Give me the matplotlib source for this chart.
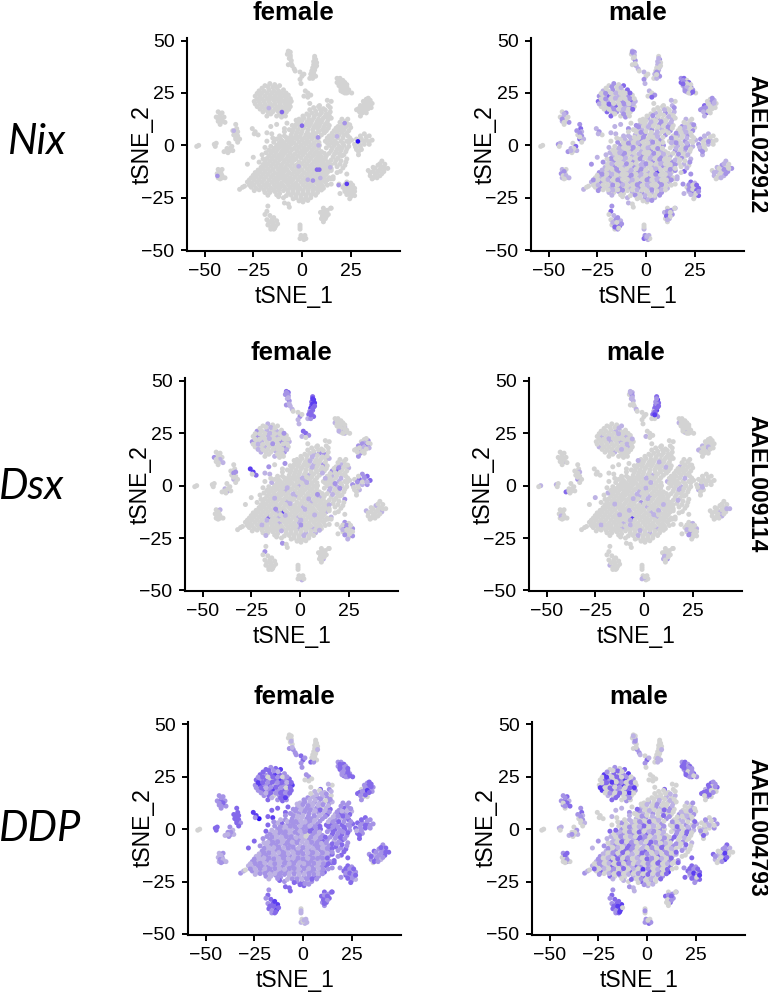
import numpy as np
import matplotlib
matplotlib.use("Agg")
import matplotlib.pyplot as plt

W, H = 768, 994

# ---- cell positions, one small list per cluster ----
tail_a = [(-7,45),(-6,44.5),(-7.5,43.5),(-6,43),(-6.5,41.5),(-5.5,40.5),(-7,38.5),(-5,38),(-4,36.5),(-3.5,35.5),(-1,35),(0,33),(-1,31.5),(1,34),(-0.5,29.5)]
tail_b = [(6.5,42.5),(7,41),(6,40),(7.5,39.5),(6,38.5),(7,37.5),(5.5,37),(6.5,36),(5,35.5),(6,34.5),(4.5,34),(5.5,33),(7,33),(4,32),(5.5,32)]
c_up = [(18,32),(19.5,32),(21,31),(18,30),(20,30),(22,30),(19,28.5),(21,28.5),(23,28),(20,27),(22,26.5),(24,26.5),(21,25.5),(23,25),(25.5,25)]
d_right = [(33,22),(35,21.5),(31.5,21),(33.5,20.5),(36,20),(30,19),(32,19),(34.5,19),(29,17.5),(31,17.5),(33,17),(35.5,18),(28,17),(31,15.5),(33,15.5),(30,14)]
e_ball = [(-19,28.5),(-16.5,29.5),(-14,29),(-11.5,28.5),(-22,26),(-19.5,26),(-17,26.5),(-14.5,26),(-12,26),(-9.5,26.5),
          (-24,23.5),(-21.5,23.5),(-19,23.5),(-16.5,24),(-14,23.5),(-11.5,23.5),(-9,23.5),(-7,24),
          (-24.5,21),(-22,21),(-19.5,21),(-17,21),(-14.5,21.5),(-12,21),(-9.5,21),(-7,21),(-5.5,21),
          (-23,18.5),(-20.5,18.5),(-18,18.5),(-15.5,19),(-13,18.5),(-10.5,18.5),(-8,18.5),(-6,18.5),
          (-20,16),(-17.5,16),(-15,16),(-12.5,16.5),(-10,16),(-8,16),(-18,14),(-13,14),(-10.5,13.5),(-8.5,14)]
t_mid = [(1.7,26),(3,25),(4.5,24),(1,23.5),(3,23),(4,20)]
f_low = [(19,-18.5),(23,-17.5),(25,-18),(21,-20),(23,-20),(25,-20),(27,-20.5),(22,-22),(24,-22.5),(26,-22.5),(25,-24.5),(27,-24),(19.5,-23),(24.5,-25.5)]
g_right = [(41,-7.5),(42.5,-9),(39,-9.5),(36.5,-10.5),(41,-10.5),(44,-11),(34,-12),(36.5,-12.5),(39,-12.5),(42,-12.5),(35,-14.5),(37.5,-14.5),(40,-14.5),(36,-16)]
v_right = [(32,5.5),(34.5,4.5),(28,3),(30.5,3),(33,2.5),(36,2.5),(27,0.5),(29.5,0.5),(32,0.5),(34.5,0.5),(28,-2),(30.5,-2),(29,-4.5)]
h_low = [(-17.5,-29),(-18,-31.5),(-19,-33),(-16.5,-33.5),(-18,-35.5),(-15.5,-35.5),(-13,-36),(-17.5,-38),(-15,-38),(-13.5,-38.5),(-16,-40),(-14.5,-40)]
k_low = [(-9,-27.5),(-7,-28),(-6.5,-29.5)]
i_low = [(11,-30),(13,-31),(9.5,-32),(11.5,-33),(13.5,-33),(10,-35),(12,-35),(11,-36.5),(15,-30)]
j_low = [(-1,-38),(-1,-40),(-0.5,-43),(1.5,-43),(-1,-44.5),(1,-45),(2,-44.5)]
l_left = [(-43,16),(-41,15.5),(-44,13.5),(-42,13.5),(-40,13.5),(-43,11.5),(-41,11.5),(-39.5,11),(-42,10)]
m_left = [(-34,10),(-33.5,8),(-35.5,7),(-33,6.5),(-35,5),(-33,4.5),(-34,3),(-32,3),(-33,1.5)]
n_left = [(-45,0.5),(-44,1),(-44.5,-0.5)]
o_left = [(-37.5,1),(-36,-0.5),(-38.5,-1.5),(-40,-3),(-37,-2.5),(-35.5,-2.5),(-38,-3.5)]
p_left = [(-53,0),(-54,-0.5)]
q_left = [(-43,-11.5),(-41,-11.5),(-43.5,-13.5),(-41.5,-13.5),(-43,-15.5),(-41,-15.5),(-39.5,-15.5)]
r_left = [(-32,-21),(-30.5,-20),(-29.5,-19.5)]
s_left = [(-25.5,8),(-24,6.5),(-22.5,5),(-24.5,5.5)]
w_scatter = [(-16,9),(-13,10),(-7.7,10.6),(-9,8),(-18,2),(-19,-1),(-25,-5.7),(-28,-9),(14.5,-16),(16,-15),(23,-13.7),(19.7,-12.4),(14.7,-30),(-18,6),(-15.5,5.5),(9,19)]
blob_01 = [(6,18),(8.5,18.5),(11,17.5),(13.5,19),(15,21),(13,21.5)]
blob_02 = [(2.5,15),(5,15.5),(7.5,15),(10,15.5),(12.5,15),(14.5,16)]
blob_03 = [(-1.5,12.5),(1,13),(3.5,12.5),(6,13),(8.5,12.5),(11,13),(13.5,12.5),(15,13),(20.5,12.5),(22.5,11.5)]
blob_04 = [(-3,10),(-0.5,10.5),(2,10),(4.5,10.5),(7,10),(9.5,10.5),(12,10),(14,9.5),(18.5,9),(21,10),(23.5,10),(25,8.5)]
blob_05 = [(-4.5,7.5),(-2,7.5),(0.5,8),(3,7.5),(5.5,7.5),(8,8),(10.5,7.5),(12.5,7),(16.5,7),(19,7.5),(21.5,7.5),(24,7)]
blob_06 = [(-5.5,5),(-3,5),(-0.5,5.5),(2,5),(4.5,5),(7,5.5),(10,5),(14,4.5),(16.5,4.5),(19,5),(21.5,5),(23.5,4.5),(-9,4.5)]
blob_07 = [(-10,2),(-7.5,2.5),(-5,2.5),(-2.5,3),(0,2.5),(2.5,2.5),(5,3),(7.5,2.5),(12,2),(14.5,2.5),(17,2),(20,2),(23,2),(25.5,2.5)]
blob_08 = [(-13,0),(-10.5,0),(-8,0),(-5.5,0.5),(-3,0),(-0.5,0),(2,0.5),(4.5,0),(7,0),(9,0),(14,0),(16.5,0),(19,-0.5),(21.5,0),(24,-0.5)]
blob_09 = [(-15,-2.5),(-12.5,-2),(-10,-2.5),(-7.5,-2.5),(-5,-2),(-2.5,-2.5),(0,-2.5),(2.5,-2),(5,-2.5),(7.5,-3),(10,-3),(15,-2.5),(17.5,-3),(20,-2.5),(22.5,-3)]
blob_10 = [(-17,-5),(-14.5,-5),(-12,-5),(-9.5,-4.5),(-7,-5),(-4.5,-5),(-2,-5),(0.5,-4.5),(3,-5),(5.5,-5),(8,-5.5),(10,-5.5),(12.5,-5),(16,-5.5),(18.5,-6),(20.5,-5),(23,-6.5)]
blob_11 = [(-19,-8),(-16.5,-7.5),(-14,-7.5),(-11.5,-7),(-9,-7.5),(-6.5,-7.5),(-4,-7),(-1.5,-8),(1,-7.5),(3.5,-7.5),(6,-8),(8.5,-7.5),(11,-8),(13.5,-8),(17,-8.5),(19.5,-9),(22,-9.5)]
blob_12 = [(-21,-10.5),(-18.5,-10),(-16,-10),(-13.5,-10),(-11,-10),(-8.5,-10.5),(-6,-10),(-3.5,-10),(-1,-10.5),(1.5,-10),(4,-10),(6.5,-10.5),(9,-10),(11.5,-10.5),(14,-10)]
blob_13 = [(-24,-13),(-21.5,-12.5),(-19,-12.5),(-16.5,-12.5),(-14,-13),(-11.5,-12.5),(-9,-12.5),(-6.5,-13),(-4,-12.5),(-1.5,-12.5),(1,-13),(3.5,-12.5),(6,-12.5),(8.5,-13),(11,-12.5),(13.5,-12.5),(15,-12),(18,-13)]
blob_14 = [(-26,-15.5),(-23.5,-15),(-21,-15),(-18.5,-15),(-16,-15),(-13.5,-15.5),(-11,-15),(-8.5,-15),(-6,-15.5),(-3.5,-15),(-1,-15),(1.5,-15.5),(4,-15),(6.5,-15),(9,-15.5),(11.5,-15),(14,-15.5),(16,-16)]
blob_15 = [(-28,-17.5),(-25.5,-18),(-23,-17.5),(-20.5,-17.5),(-18,-18),(-15.5,-17.5),(-13,-17.5),(-10.5,-18),(-8,-17.5),(-5.5,-17.5),(-3,-18),(-0.5,-17.5),(2,-17.5),(4.5,-18),(7,-17.5),(9.5,-18),(12,-17.5),(15,-18.5)]
blob_16 = [(-26,-20),(-23.5,-20.5),(-21,-20),(-18.5,-20),(-16,-20.5),(-13.5,-20),(-11,-20),(-8.5,-20.5),(-6,-20),(-3.5,-20),(-1,-20.5),(1.5,-20),(4,-20),(6.5,-20.5),(9,-20),(11,-20.5)]
blob_17 = [(-19,-22.5),(-16.5,-22.5),(-14,-22),(-11.5,-23),(-7,-22.5),(-4.5,-22.5),(-2,-22.5),(0.5,-23),(3,-22.5),(5.5,-23),(8,-22.5)]
blob_18 = [(-12,-24.5),(-9.5,-25),(-3,-25),(-0.5,-25.5),(2,-25),(4.5,-25),(0.5,-27)]
# cells that lie between the ones above in the dense areas
mid_01 = [(4,17),(7,16.5),(9.5,17),(12,16.8),(14.5,18)]
mid_02 = [(0.5,14),(3.5,14.2),(6.3,13.8),(9,14.4),(11.7,13.7),(14,14.2)]
mid_03 = [(-2.2,11.3),(0,11.8),(2.6,11.2),(5.2,11.8),(7.8,11.3),(10.3,11.7),(13,11.2),(19.5,11),(23.5,12.5)]
mid_04 = [(-3.8,8.8),(-1.2,9.2),(1.2,8.9),(3.8,9.2),(6.2,8.8),(8.9,9.2),(11.3,8.8),(13.5,8.2),(17.5,8.2),(20,8.6),(22.5,8.8),(24.5,9.8)]
mid_05 = [(-5,6.4),(-2.6,6.2),(0,6.6),(2.8,6.2),(5.8,6.4),(8.5,6.5),(11.5,6),(15.5,5.8),(18,6.2),(20.5,6.3),(23,5.8)]
mid_06 = [(-8,3.7),(-6,3.8),(-3.8,3.6),(-1.2,4),(1.2,3.6),(3.5,4),(6,4.2),(8.7,3.8),(13,3.5),(15.5,3.5),(18.3,3.6),(21,3.5),(24.5,3.6),(-11,3)]
mid_07 = [(-11.7,1.2),(-9,1),(-6.5,1.4),(-4,1.2),(-1.5,1.5),(1,1.1),(3.5,1.5),(6,1.2),(8.7,1.4),(13,1.2),(15.5,1.2),(18,1),(21,1),(24,1.4)]
mid_08 = [(-14,-1.3),(-11.5,-1),(-9,-1.3),(-6.5,-1),(-4,-1.4),(-1.5,-1),(1,-1.2),(3.5,-1),(6,-1.5),(8.5,-1.4),(12.5,-1.2),(15.5,-1.4),(18,-1.8),(20.5,-1.3),(23,-1.7)]
mid_09 = [(-16,-3.8),(-13.5,-3.5),(-11,-3.8),(-8.5,-3.5),(-6,-3.6),(-3.5,-4),(-1,-3.6),(1.5,-3.4),(4,-3.8),(6.5,-4),(9,-4.2),(11.5,-3.8),(14,-3.8),(16.7,-4.2),(19.2,-4),(21.5,-4.5)]
mid_10 = [(-18,-6.3),(-15.5,-6.3),(-13,-6),(-10.5,-6),(-8,-6.3),(-5.5,-6.2),(-3,-6.4),(-0.5,-6),(2,-6.2),(4.5,-6.3),(7,-6.7),(9.5,-6.8),(12,-6.5),(15,-7),(17.5,-7),(20,-7.4),(22.5,-8)]
mid_11 = [(-20,-9.2),(-17.5,-8.8),(-15,-8.8),(-12.5,-8.6),(-10,-8.8),(-7.5,-9),(-5,-8.6),(-2.5,-9.2),(0,-8.8),(2.5,-8.8),(5,-9.2),(7.5,-8.8),(10,-9),(12.5,-9.2),(15,-9.2),(18,-10.2),(21,-10.8)]
mid_12 = [(-22.5,-11.8),(-20,-11.3),(-17.5,-11.3),(-15,-11.5),(-12.5,-11.2),(-10,-11.3),(-7.5,-11.8),(-5,-11.2),(-2.5,-11.4),(0,-11.7),(2.5,-11.3),(5,-11.2),(7.5,-11.8),(10,-11.3),(12.5,-11.5),(15,-11)]
mid_13 = [(-25,-14.3),(-22.5,-13.8),(-20,-13.8),(-17.5,-13.8),(-15,-14.2),(-12.5,-13.9),(-10,-13.8),(-7.5,-14.2),(-5,-13.8),(-2.5,-13.8),(0,-14.2),(2.5,-13.9),(5,-13.8),(7.5,-14),(10,-13.9),(12.5,-13.8)]
mid_14 = [(-27,-16.5),(-24.5,-16.4),(-22,-16.3),(-19.5,-16.3),(-17,-16.5),(-14.5,-16.5),(-12,-16.3),(-9.5,-16.3),(-7,-16.5),(-4.5,-16.3),(-2,-16.3),(0.5,-16.5),(3,-16.4),(5.5,-16.3),(8,-16.5),(10.5,-16.5),(13,-16.5)]
mid_15 = [(-27,-19),(-24.5,-19),(-22,-18.8),(-19.5,-18.8),(-17,-19),(-14.5,-18.8),(-12,-18.8),(-9.5,-19.2),(-7,-18.8),(-4.5,-18.8),(-2,-19.2),(0.5,-18.8),(3,-18.8),(5.5,-19.2),(8,-18.8),(10.5,-19.2),(13,-19)]
mid_16 = [(-24.5,-21.6),(-22,-21.2),(-19.5,-21.2),(-17,-21.4),(-14.5,-21.2),(-12,-21.4),(-9.5,-21.6),(-7,-21.2),(-4.5,-21.2),(-2,-21.4),(0.5,-21.6),(3,-21.2),(5.5,-21.6),(8,-21.2),(10,-21.3)]
mid_17 = [(-17.5,-23.8),(-13,-23.6),(-8,-24),(-5.5,-23.8),(-3,-23.8),(-0.5,-24),(2,-23.8),(4.5,-23.9),(7,-23.8)]
mid_18 = [(-1.5,-26.5),(1,-26),(3,-26.3),(-4.5,-25.5)]
mid_ball = [(-17.5,28),(-15,27.8),(-12.8,27.5),(-20.5,27.3),(-23,24.8),(-20.7,24.8),(-18,24.9),(-15.5,25),(-13,24.8),(-10.5,24.9),(-8.2,25),
            (-23,22.2),(-20.7,22.2),(-18,22.4),(-15.7,22.5),(-13,22.3),(-10.7,22.3),(-8.2,22.3),(-6,22.3),(-24,19.8),(-21.5,19.8),(-19,19.7),
            (-16.5,20),(-14,20),(-11.3,19.8),(-8.7,19.8),(-6.5,19.8),(-21.5,17.3),(-19,17.2),(-16.5,17.4),(-14,17.3),(-11.5,17.3),(-9,17.3),(-6.8,17.2),(-16,15),(-11.5,15),(-9,15)]
mid_c = [(19,31),(21,29.5),(19,29.3),(23,29),(21,27.5),(23,27),(20,26),(22,25),(24,25.5)]
mid_d = [(34,22.5),(32,20),(35,20.3),(33,18.5),(30.5,18),(34,17.5),(29.5,16),(32,16.3)]
mid_g = [(40,-8.8),(37.5,-11),(40,-11.5),(42.5,-11),(35,-13),(38,-13.5),(41,-13.5),(36.5,-15.5),(38.5,-15.5)]
mid_v = [(33,4),(30,4.5),(29.5,1.8),(32,1.8),(34.5,1.8),(27.5,-0.8),(30,-0.8),(29,-3)]
mid_f = [(22,-18.8),(24,-19),(26,-19),(22,-21),(24,-21),(26,-21.5),(23,-23.5),(25.5,-23),(27,-22)]
mid_h = [(-17,-36.8),(-15,-36.8),(-14.5,-34.5),(-16,-39),(-14,-39.5),(-12.5,-37.5)]
mid_i = [(11,-31.5),(12.5,-32),(10.5,-33.7),(12.5,-34),(11,-35.5)]
mid_l = [(-42,15),(-41,12.5),(-43,12.5),(-42,11)]
mid_q = [(-42,-12.5),(-42.5,-14.5),(-41,-14.5),(-42,-16)]
mid_o = [(-37,-1.5),(-38.5,-2.5)]
mid_j = [(0,-44),(0.5,-43.5),(-1,-39)]
mid_tb = [(6.5,39),(6.5,37),(5.5,35),(5.5,33.8),(6.5,41.5),(7.5,38)]
mid_ta = [(-6.5,44),(-6,42),(-7,44.5),(-5.5,39)]
mid_m = [(-34,6),(-34,4)]
flank_ul = [(-22,-8),(-20,-6.5),(-18.5,-3.5),(-17,-2.3),(-16,-0.5),(-14.5,1.5),(-13,3),(-11.5,4.5),(-9,6.5),(-6.5,7.5),(-5,9.5),(-3,12),(-20.5,-4.5),(-15,3.5)]

clusters = [tail_a, tail_b, c_up, d_right, e_ball, t_mid, f_low, g_right, v_right, h_low, k_low, i_low, j_low,
            l_left, m_left, n_left, o_left, p_left, q_left, r_left, s_left, w_scatter,
            blob_01, blob_02, blob_03, blob_04, blob_05, blob_06, blob_07, blob_08, blob_09,
            blob_10, blob_11, blob_12, blob_13, blob_14, blob_15, blob_16, blob_17, blob_18,
            mid_01, mid_02, mid_03, mid_04, mid_05, mid_06, mid_07, mid_08, mid_09,
            mid_10, mid_11, mid_12, mid_13, mid_14, mid_15, mid_16, mid_17, mid_18,
            mid_ball, mid_c, mid_d, mid_g, mid_v, mid_f, mid_h, mid_i, mid_l, mid_q, mid_o, mid_j, mid_tb, mid_ta, mid_m, flank_ul]

# ---- expression level of each cell, per panel, same cluster order (0 = none) ----
levels_nix_male = ["120102011010201", "021012010210201", "230323103202130", "0102030121002301",
    "020310200320301020301002031002301203021003020", "102030", "23102031320310", "10210201021010", "1020102010201",
    "230102101302", "100", "021020101", "0121310", "020101020", "232102310", "210", "0312010", "00", "1020101", "100", "1201",
    "1102011201230110",
    "000101", "010201", "0102001010", "101020102010", "010201020102", "1020102010201", "01020102010201",
    "201020100201021", "010201020102010", "10201020102010201", "02010201020102010", "102010201010201",
    "201020102010401020", "010201020102010201", "102010201020102010", "0201020102010201", "10201020102", "0102010",
    "00102", "020010", "001020100", "201000200102", "02001002010", "10020010200101", "02010020012010",
    "100200102001020", "0120010020100201", "20010020102001002", "01002001200100201", "1002001020010020",
    "0201000201002001", "20010200100201002", "01002010020100200", "200102001002010", "100201002", "0120",
    "2010020100302010020103002010020103020", "203010203", "20102010", "102010201", "01020102", "203203102", "102302", "20301", "1020", "2010", "01", "210", "102010", "1020", "20",
    "20100201002010"]
levels_dsx_female = ["332212211002101", "343433432232312", "000100001020010", "0201020302010202",
    "010020101002010100201000201001000201001020100", "332100", "02003020010201", "00100010010000", "2303232012010",
    "020000000000", "200", "000000100", "0000010", "002000010", "000200100", "000", "0010200", "00", "0100000", "000", "4430",
    "2020000001000110",
    "000000", "001220", "0000000100", "000010200101", "000000002300", "0000100010000", "00000100000100",
    "000001000000100", "000100000001000", "00000010000100002", "00000100001000000", "000000000100000",
    "000001400000000100", "000030100010000000", "000000010001000000", "0000000000100100", "00000000101", "0000000",
    "00000", "001000", "000100000", "000010000200", "00000010000", "00001000100100", "00000010000200",
    "000100000001020", "0000010000200100", "00100000010000000", "00000010000000100", "0000200000100000",
    "0000000100000100", "00001000000100000", "00010000000200000", "000000100000001", "100000100", "0000",
    "0100000100200010000010020001000001000", "000000100", "02010000", "000000000", "20201000", "020100200", "000000", "00000", "0100", "0000", "00", "000", "433343", "2121", "20",
    "00000100000000"]
levels_dsx_male = ["110211001000000", "342333341230200", "000100000000100", "0000010000201000",
    "000100010001000010000101000100000100010000000", "000100", "00100010200000", "00000100100010", "0000000100100",
    "000000010000", "000", "000001200", "0000100", "000000100", "000100200", "100", "0003000", "10", "0000000", "000", "0000",
    "0000001000000000",
    "000000", "000000", "0000000000", "000000001000", "000000000000", "0000100000000", "00000000100000",
    "000000000000100", "000001000000000", "00000010100000000", "00000002000000000", "000000000100000",
    "000000000001000000", "000000004000010000", "000000010000000000", "0000001000000100", "00000000100", "0000000",
    "00000", "000000", "000010000", "000000100000", "00000000000", "00001000000100", "00000010000000",
    "000000100000100", "0000010000000000", "00000100100000100", "00100000000010000", "0000001000001000",
    "0000010000001000", "00000000100000000", "00100000100000000", "000000000100000", "000010000", "0000",
    "0010000010000100001000000100000100000", "000000000", "00010000", "000100000", "00000010", "000100200", "000000", "00100", "0000", "0100", "00", "100", "233423", "2110", "00",
    "00100000000100"]
levels_ddp_female = ["000000222233222", "000000000001032", "223232323232323", "2323203232323002",
    "323432343232303423242313234232423232302323232", "220000", "23232123232123", "23232321232310", "3232323232323",
    "232323432423", "333", "323232323", "0101111", "222322222", "333333323", "333", "2121212", "00", "1212121", "210", "4452",
    "3333333333333343",
    "101201", "212120", "1212112122", "212120132321", "122212131323", "2112212121232", "12221212332323",
    "211122232323232", "122112102123232", "21112221212321232", "12212211112212323", "211221122121212",
    "122112221112121232", "211211122212211123", "112221121212221232", "2112212211212123", "21221112232", "3223123",
    "01121", "211202", "122112122", "212213122112", "21122121232", "12211212123223", "21221212332232",
    "122121232123223", "2112211021232232", "12212121122123232", "21121221211212323", "1221121122121212",
    "2112212112212223", "12211212121122123", "21212211221212122", "122112212112212", "121221232", "3223",
    "3213230320243232313231232032132323134", "323323223", "32342323", "322332232", "23232123", "323232323", "334233", "23323", "2322", "1212", "21", "011", "000001", "0101", "33",
    "21221211222122"]
levels_ddp_male = ["000210022103210", "000000000002101", "232313232323232", "3230312032103200",
    "020340302403203402030234020403203021030203020", "000000", "23232031322332", "31202031201040", "0201020102010",
    "232323432423", "211", "023020301", "0020232", "232312230", "232102010", "110", "0201010", "00", "2301020", "210", "0000",
    "1102032102300103",
    "000000", "000101", "0101001010", "100210200010", "010201002102", "1020102010201", "01020102010201",
    "201020102012021", "120201320102030", "10201320102030201", "02013201301302010", "102032013020201",
    "201320102010302010", "120301320102030203", "102030201320102030", "0302010302030204", "30201030102", "1030201",
    "00010", "001010", "010200102", "201003201020", "02010320010", "10203010201030", "02013010203012",
    "102030120102030", "0201032010203010", "10302010320102030", "20103201020301020", "1020301032010203",
    "2010302010320103", "02010302010203010", "30102030104201030", "201030102030203", "103020103", "2010",
    "0302040302003402030403020340203040302", "323202320", "23203203", "204020302", "02010203", "323242304", "343240", "23020", "2302", "3020", "02", "202", "000101", "0210", "20",
    "20103020103010"]

# highlighted cells of the otherwise grey female Nix panel
nix_female_x = [-10.3, 0, 21.9, 8.2, 28.7, 7.7, 8.9, 23, 18.8, -43.4, -35, 5.6, 9.4, 18, -1.7, -17, 8.5, 14.5, 3]
nix_female_y = [15.9, 9.4, 10.6, 3.8, 1.9, -11.6, -11.6, -18.4, -19, -14.6, 7, -16.8, -15.6, 4.3, -10, 17.8, 0, -10.5, -16.4]
nix_female_lvl = [3, 3, 2, 2, 5, 3, 3, 4, 2, 2, 1, 2, 1, 1, 1, 1, 1, 1, 1]
levels_none = []

x_ticks = [-50, -25, 0, 25]
y_ticks = [-50, -25, 0, 25, 50]
tick_labels_x = ["\u221250", "\u221225", "0", "25"]
tick_labels_y = ["\u221250", "\u221225", "0", "25", "50"]
sex_titles = ["female", "male"]
gene_labels = ["AAEL022912", "AAEL009114", "AAEL004793"]
row_labels = ["Nix", "Dsx", "DDP"]

palette = ["#D3D3D3", "#BDB2E4", "#A593E6", "#8469EA", "#5B3DF0", "#2A10F8"]

plt.rcParams["font.family"] = ["Liberation Sans", "DejaVu Sans"]
fig = plt.figure(figsize=(W / 100, H / 100), dpi=100, facecolor="white")

cell_x = np.array([p[0] for c in clusters for p in c], float)
cell_y = np.array([p[1] for c in clusters for p in c], float)


def expand(levels):
    out = []
    for i, c in enumerate(clusters):
        s = levels[i] if i < len(levels) else ""
        s = (s + "0" * len(c))[:len(c)]
        out.extend(int(ch) for ch in s)
    return np.array(out)


def px_text(x, y, s, **kw):
    return fig.text(x / W, 1 - y / H, s, ha="center", va="center", **kw)


panel_levels = [[levels_none, levels_nix_male], [levels_dsx_female, levels_dsx_male], [levels_ddp_female, levels_ddp_male]]
lefts = [[187, 531], [185, 529], [188, 532]]
tops = [37.7, 378, 721.5]
AW, AH = 213, 213
ylab_x = [[142, 485], [140, 483], [143, 486]]

for r in range(3):
    for c in range(2):
        l, t = lefts[r][c], tops[r]
        ax = fig.add_axes([l / W, 1 - (t + AH) / H, AW / W, AH / H])
        lv = expand(panel_levels[r][c])
        ax.scatter(cell_x, cell_y, s=13, c=[palette[i] for i in lv], linewidths=0, zorder=2)
        if r == 0 and c == 0:
            ax.scatter(nix_female_x, nix_female_y, s=11, c=[palette[i] for i in nix_female_lvl], linewidths=0, zorder=3)
        ax.set_xlim(-59, 50.3)
        ax.set_ylim(-50.3, 51.4)
        ax.set_xticks(x_ticks, tick_labels_x)
        ax.set_yticks(y_ticks, tick_labels_y)
        ax.tick_params(labelsize=14, width=1.4, length=4, pad=5, color="black", labelcolor="black")
        for sp in ("top", "right"):
            ax.spines[sp].set_visible(False)
        for sp in ("left", "bottom"):
            ax.spines[sp].set_linewidth(1.5)
        cx = l + AW / 2
        px_text(cx, t - 24.7, sex_titles[c], fontsize=18.5, fontweight="bold")
        px_text(cx + 1, t + AH + 46, "tSNE_1", fontsize=16.5)
        px_text(ylab_x[r][c], t + AH / 2, "tSNE_2", fontsize=16.5, rotation=90)
    px_text(756.5, tops[r] + AH / 2 - 0.5, gene_labels[r], fontsize=16.5, fontweight="bold", rotation=-90)

label_pos = [(37, 142), (32, 487), (40, 829)]
for (x, y), s in zip(label_pos, row_labels):
    px_text(x, y, s, fontsize=30, style="italic", family=["Lato", "DejaVu Sans"])

fig.savefig("out.png", dpi=100, facecolor="white")
